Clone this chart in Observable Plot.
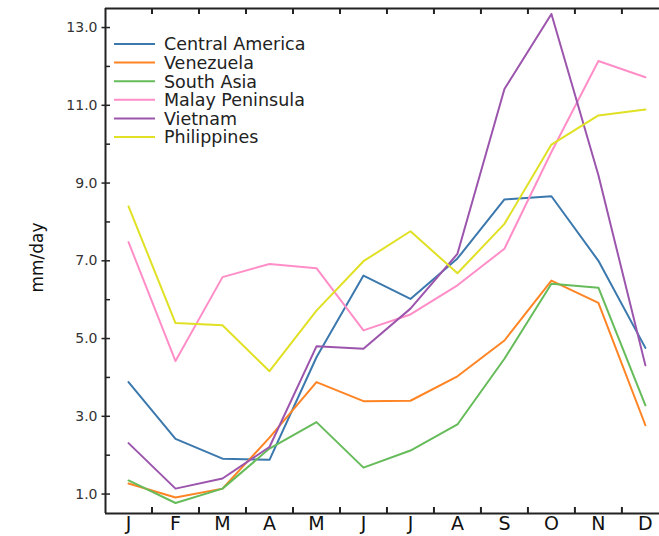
<!DOCTYPE html>
<html>
<head>
<meta charset="utf-8">
<script src="https://cdn.jsdelivr.net/npm/d3@7"></script>
<script src="https://cdn.jsdelivr.net/npm/@observablehq/plot@0.6"></script>
<style>
  html, body { margin: 0; padding: 0; background: #fff; }
  #chart { width: 659px; height: 536px; }
</style>
</head>
<body>
<div id="chart"></div>
<script>
// ---- data ----
const months = ["J","F","M","A","M","J","J","A","S","O","N","D"];
const seriesNames = ["Central America","Venezuela","South Asia","Malay Peninsula","Vietnam","Philippines"];
const seriesColors = ["#3b78ad","#ff8424","#66bb5a","#ff8ec8","#9c55ad","#e0e024"];
const centralAmerica = [3.88, 2.42, 1.91, 1.88, 4.52, 6.62, 6.02, 7.06, 8.58, 8.66, 7.00, 4.76];
const venezuela      = [1.27, 0.91, 1.14, 2.45, 3.88, 3.39, 3.40, 4.03, 4.95, 6.49, 5.92, 2.77];
const southAsia      = [1.35, 0.77, 1.14, 2.17, 2.85, 1.68, 2.12, 2.79, 4.48, 6.41, 6.31, 3.28];
const malayPeninsula = [7.48, 4.42, 6.58, 6.92, 6.81, 5.21, 5.62, 6.37, 7.31, 9.80, 12.14, 11.72];
const vietnam        = [2.31, 1.14, 1.40, 2.21, 4.80, 4.74, 5.77, 7.18, 11.42, 13.35, 9.20, 4.31];
const philippines    = [8.40, 5.40, 5.34, 4.16, 5.72, 6.99, 7.76, 6.68, 7.95, 9.99, 10.74, 10.89];
const yTickLabels = [1, 3, 5, 7, 9, 11, 13];
const yMinorTicks = [2, 4, 6, 8, 10, 12];

const allSeries = [centralAmerica, venezuela, southAsia, malayPeninsula, vietnam, philippines];
const table = allSeries.flatMap((vals, s) => vals.map((v, i) => ({name: seriesNames[s], i, v})));

// ---- layout ----
const W = 659, H = 536, mL = 105, mR = 0, mT = 8, mB = 23;
const xDom = [-0.49, 11.3], yDom = [0.5, 13.49];
const pxX = (W - mL - mR) / (xDom[1] - xDom[0]);
const pxY = (H - mT - mB) / (yDom[1] - yDom[0]);
const mids = d3.range(11).map(i => i + 0.5);
const ink = "#222";

const chart = Plot.plot({
  width: W, height: H,
  marginLeft: mL, marginRight: mR, marginTop: mT, marginBottom: mB,
  style: {fontFamily: "DejaVu Sans", background: "#fff", color: ink, overflow: "visible"},
  x: {type: "linear", domain: xDom},
  y: {type: "linear", domain: yDom},
  color: {domain: seriesNames, range: seriesColors},
  marks: [
    Plot.lineY(table, {x: "i", y: "v", z: "name", stroke: "name", strokeWidth: 2}),
    // frame lines
    Plot.ruleX([xDom[0]], {stroke: ink, strokeWidth: 2}),
    Plot.ruleY([yDom[0], yDom[1]], {stroke: ink, strokeWidth: 2}),
    // y ticks
    Plot.ruleY(yMinorTicks, {x1: xDom[0], x2: xDom[0] + 5 / pxX, stroke: ink, strokeWidth: 1.5}),
    Plot.ruleY(yTickLabels, {x1: xDom[0] - 3.5 / pxX, x2: xDom[0] + 5 / pxX, stroke: ink, strokeWidth: 1.5}),
    // x ticks (between months, inward)
    Plot.ruleX(mids, {y1: yDom[1], y2: yDom[1] - 6 / pxY, stroke: ink, strokeWidth: 2}),
    Plot.ruleX(mids, {y1: yDom[0], y2: yDom[0] + 6 / pxY, stroke: ink, strokeWidth: 2}),
    Plot.axisX(d3.range(12), {tickFormat: i => months[i], tickSize: 0, tickPadding: 3, fontSize: 19, label: null, fill: "#111"}),
    Plot.axisY(yTickLabels, {tickFormat: d => d.toFixed(1), tickSize: 0, tickPadding: 8, fontSize: 14, label: null, fill: "#333"}),
    Plot.text(["mm/day"], {frameAnchor: "left", dx: -63, dy: -3.5, rotate: -90, fontSize: 17, lineAnchor: "bottom", textAnchor: "middle", fill: "#111"})
  ]
});

// legend inside the plot area
const svg = d3.select(chart);
const lg = svg.append("g").attr("class", "legend").attr("text-anchor", "start");
seriesNames.forEach((name, k) => {
  const y = 44 + k * 18.6;
  lg.append("line").attr("x1", 114).attr("x2", 155).attr("y1", y).attr("y2", y)
    .attr("stroke", seriesColors[k]).attr("stroke-width", 2);
  lg.append("text").attr("x", 164).attr("y", y + 6.3).text(name)
    .attr("text-anchor", "start")
    .attr("font-size", 17.5).attr("fill", ink).attr("font-family", "DejaVu Sans");
});

document.getElementById("chart").appendChild(chart);
</script>
</body>
</html>
